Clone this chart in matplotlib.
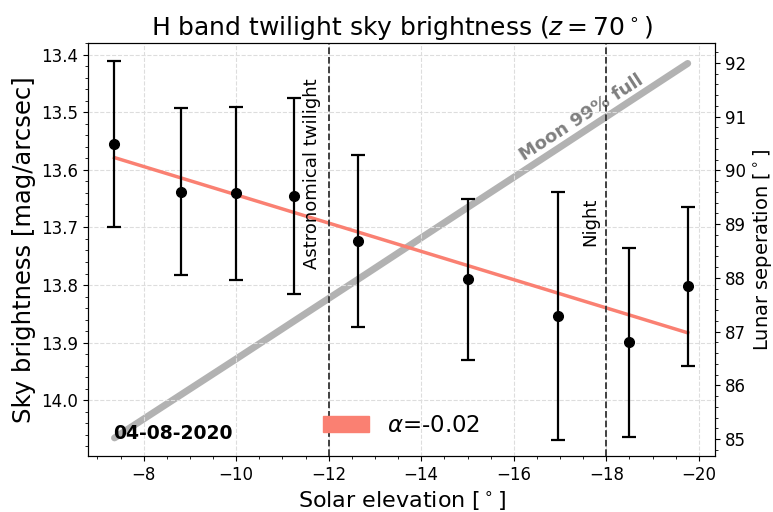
import matplotlib
matplotlib.use("Agg")
import numpy as np
import matplotlib.pyplot as plt
from matplotlib.patches import Patch
from matplotlib.ticker import MultipleLocator

# Sonnenhoehe und gemessene Himmelshelligkeit
sun_elev = [-7.37, -8.80, -10.00, -11.26, -12.63, -15.02, -16.96, -18.50, -19.76]
sky_mag = [13.555, 13.638, 13.641, 13.646, 13.724, 13.790, 13.854, 13.899, 13.802]
sky_err = [0.144, 0.145, 0.150, 0.170, 0.149, 0.140, 0.215, 0.164, 0.138]

# Mondabstand
moon_sep = [85.02, 85.82, 86.49, 87.20, 87.97, 89.32, 90.41, 91.28, 91.99]

# Linearer Fit
slope = -0.02454
intercept = 13.398
alpha_label = r"$\alpha$=-0.02"

fig = plt.figure(figsize=(7.73, 5.12), dpi=100)
ax = fig.add_axes([0.114, 0.109, 0.811, 0.807])
ax2 = ax.twinx()
ax.set_zorder(ax2.get_zorder() + 1)
ax.patch.set_visible(False)

# Mondabstand (rechte Achse)
ax2.plot(sun_elev, moon_sep, color="gray", alpha=0.6, lw=5, solid_capstyle="round")
ax2.text(-17.47, 90.98, "Moon 99% full", color="gray", fontsize=13, fontweight="bold",
         rotation=33, ha="center", va="center", rotation_mode="anchor")
ax2.set_ylim(84.68, 92.37)
ax2.yaxis.set_major_locator(MultipleLocator(1))
ax2.yaxis.set_minor_locator(MultipleLocator(0.2))
ax2.set_ylabel(r"Lunar seperation [$^\circ$]", fontsize=14)
ax2.tick_params(labelsize=12)

# Fit und Messpunkte
xfit = np.array([sun_elev[0], sun_elev[-1]])
ax.plot(xfit, intercept + slope * xfit, color="salmon", lw=2.5)
ax.errorbar(sun_elev, sky_mag, yerr=sky_err, fmt="o", color="black", ms=7,
            elinewidth=1.6, capsize=5, capthick=1.6)

ax.axvline(-12, color="#333333", ls="--", lw=1.3)
ax.axvline(-18, color="#333333", ls="--", lw=1.3)
ax.text(-11.64, 13.606, "Astronomical twilight", rotation=90, fontsize=13,
        ha="center", va="center")
ax.text(-17.65, 13.69, "Night", rotation=90, fontsize=13, ha="center", va="center")
ax.text(0.04, 0.056, "04-08-2020", transform=ax.transAxes, fontsize=13.5,
        fontweight="bold", ha="left", va="center")

ax.set_xlim(-6.8, -20.35)
ax.set_ylim(14.097, 13.38)
ax.xaxis.set_major_locator(MultipleLocator(2))
ax.xaxis.set_minor_locator(MultipleLocator(0.5))
ax.yaxis.set_major_locator(MultipleLocator(0.1))
ax.yaxis.set_minor_locator(MultipleLocator(0.02))
ax.tick_params(labelsize=12)
ax.grid(True, ls="--", lw=0.8, color="#dddddd")

ax.set_xlabel(r"Solar elevation [$^\circ$]", fontsize=16)
ax.set_ylabel("Sky brightness [mag/arcsec]", fontsize=17.5)
ax.set_title(r"H band twilight sky brightness ($z=70^\circ$)", fontsize=18)

ax.legend(handles=[Patch(color="salmon", label=alpha_label)], loc="center",
          bbox_to_anchor=(0.5, 0.075), frameon=False, fontsize=16.5, handlelength=2.0)

fig.savefig("out.png", dpi=100)
